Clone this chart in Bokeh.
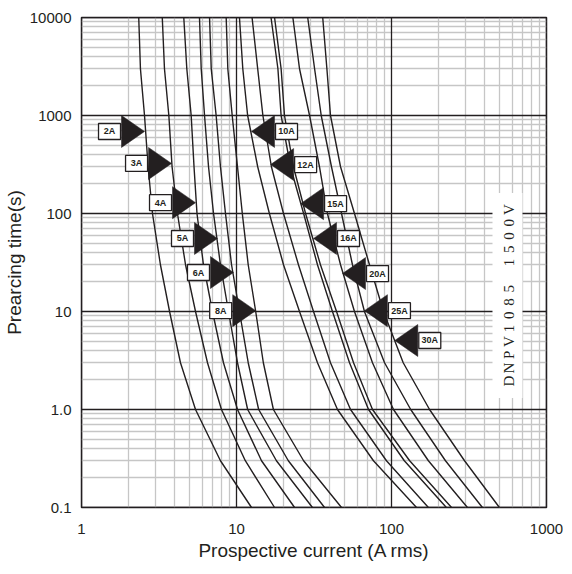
import math
from bokeh.plotting import figure
from bokeh.models import FixedTicker
from bokeh.core.properties import value
from bokeh.embed import file_html
from bokeh.resources import INLINE

# ---------------- data ----------------
times = [10000, 3000, 1000, 300, 100, 30, 10, 3, 1, 0.3, 0.1]  # prearcing time (s)

i_2A  = [2.34, 2.40, 2.55, 2.69, 2.87, 3.23, 3.70, 4.35, 5.44, 7.88, 12.5]
i_3A  = [3.32, 3.43, 3.66, 3.84, 4.16, 4.69, 5.44, 6.50, 8.00, 11.4, 17.6]
i_4A  = [4.57, 4.78, 5.10, 5.32, 5.56, 6.12, 7.00, 8.24, 10.15, 14.5, 23.7]
i_5A  = [5.77, 5.92, 6.22, 6.60, 7.11, 7.88, 8.88, 10.15, 11.8, 18.1, 30.9]
i_6A  = [6.70, 6.87, 7.39, 7.88, 8.49, 9.29, 10.45, 11.9, 13.9, 21.6, 37.0]
i_8A  = [8.58, 8.79, 9.38, 10.15, 10.9, 11.9, 13.3, 14.9, 17.3, 27.1, 47.6]
i_10A = [10.45, 10.98, 11.8, 13.7, 16.3, 20.1, 25.5, 33.3, 44.8, 76.5, 145]
i_12A = [12.6, 13.7, 14.8, 16.8, 20.1, 25.1, 31.4, 40.4, 54.4, 92.8, 173]
i_15A = [16.7, 18.5, 19.4, 22.3, 27.1, 33.3, 41.6, 53.6, 71.1, 121, 226]
i_16A = [17.6, 19.4, 20.4, 23.3, 27.9, 34.8, 44.2, 56.9, 75.4, 131, 244]
i_20A = [23.1, 25.5, 29.6, 34.3, 38.6, 46.9, 57.7, 75.4, 103, 173, 309]
i_25A = [28.8, 31.9, 35.2, 41.0, 47.6, 56.0, 66.9, 90.2, 133, 223, 386]
i_30A = [36.0, 38.3, 40.4, 46.9, 57.7, 72.1, 88.8, 119, 176, 296, 497]

ratings = ["2A", "3A", "4A", "5A", "6A", "8A", "10A", "12A", "15A", "16A", "20A", "25A", "30A"]
curves = [i_2A, i_3A, i_4A, i_5A, i_6A, i_8A, i_10A, i_12A, i_15A, i_16A, i_20A, i_25A, i_30A]

# arrow markers: tip position (current, time) and pointing direction
arrow_current = [2.55, 3.81, 5.44, 7.54, 9.56, 13.3, 12.5, 16.6, 25.9, 31.4, 48.3, 66.9, 105]
arrow_time    = [687, 324, 129, 55.6, 25.0, 10.2, 687, 316, 126, 55.6, 24.4, 10.2, 5.06]
arrow_dir     = ["right"] * 6 + ["left"] * 7

y_ticks = [0.1, 1, 10, 100, 1000, 10000]
y_tick_labels = ["0.1", "1.0", "10", "100", "1000", "10000"]
x_ticks = [1, 10, 100, 1000]
x_tick_labels = ["1", "10", "100", "1000"]

note_text = "DNPV1085 1500V"
note_anchor = (577, 14.6)  # (current, time) of the centre of the vertical note

# ---------------- layout ----------------
FW, FH = 465, 490
BL, BR, BT, BB = 74, 17, 17, 52
PX_DEC_X = FW / 3.0   # pixels per decade, x (1..1000)
PX_DEC_Y = FH / 5.0   # pixels per decade, y (0.1..10000)


def xs(x, dpx):
    return x * 10 ** (dpx / PX_DEC_X)


def ys(y, dpx):  # dpx positive = downwards on screen
    return y * 10 ** (-dpx / PX_DEC_Y)


INK = "#231f20"
GRID = "#c6c6c6"
X0, X1, Y0, Y1 = 1, 1000, 0.1, 10000

p = figure(frame_width=FW, frame_height=FH, x_axis_type="log", y_axis_type="log",
           x_range=(X0, X1), y_range=(Y0, Y1),
           output_backend="svg", toolbar_location=None,
           min_border_left=BL, min_border_right=BR,
           min_border_top=BT, min_border_bottom=BB)

minor_x = [k * 10 ** n for n in range(0, 3) for k in range(2, 10)]
minor_y = [k * 10 ** n for n in range(-1, 4) for k in range(2, 10)]
p.xaxis.ticker = FixedTicker(ticks=x_ticks, minor_ticks=minor_x)
p.yaxis.ticker = FixedTicker(ticks=y_ticks, minor_ticks=minor_y)
p.xaxis.major_label_overrides = dict(zip(x_ticks, x_tick_labels))
p.yaxis.major_label_overrides = dict(zip(y_ticks, y_tick_labels))

for ax in (p.xaxis, p.yaxis):
    ax.axis_line_color = None
    ax.major_tick_line_color = None
    ax.minor_tick_line_color = None
    ax.major_tick_out = 0
    ax.major_tick_in = 0
    ax.minor_tick_out = 0
    ax.minor_tick_in = 0
    ax.major_label_text_font = "Liberation Sans"
    ax.major_label_text_color = INK
    ax.axis_label_text_font = "Liberation Sans"
    ax.axis_label_text_font_style = "normal"
    ax.axis_label_text_font_size = "19px"
    ax.axis_label_text_color = INK

p.xaxis.major_label_text_font_size = "15px"
p.yaxis.major_label_text_font_size = "15px"
p.xaxis.major_label_standoff = 16
p.yaxis.major_label_standoff = 10
p.xaxis.axis_label = "Prospective current (A rms)"
p.yaxis.axis_label = "Prearcing time(s)"
p.xaxis.axis_label_standoff = 3
p.yaxis.axis_label_standoff = 2

# minor grid from the axes; major grid drawn on top as segments
for g in (p.xgrid, p.ygrid):
    g.grid_line_color = None
    g.minor_grid_line_color = GRID
    g.minor_grid_line_width = 1.3

p.segment(x0=x_ticks, y0=[Y0] * len(x_ticks), x1=x_ticks, y1=[Y1] * len(x_ticks),
          line_color=INK, line_width=1.3)
p.segment(x0=[X0] * len(y_ticks), y0=y_ticks, x1=[X1] * len(y_ticks), y1=y_ticks,
          line_color=INK, line_width=1.3)

p.outline_line_color = INK
p.outline_line_width = 1.5
p.background_fill_color = "white"
p.border_fill_color = "white"

# curves
for cur in curves:
    p.line(cur, times, line_color=INK, line_width=1.4, line_join="round")

# note with white background
nx, ny = note_anchor
p.rect(x=[xs(nx, -2)], y=[ys(ny, 0)], width=30, height=205,
       width_units="screen", height_units="screen",
       fill_color="white", line_color=None)
step = 13.2
n = len(note_text)
cx_list, cy_list, ch_list = [], [], []
for k, ch in enumerate(note_text):
    off = (k - (n - 1) / 2.0) * step
    cx_list.append(nx)
    cy_list.append(ys(ny, -off))
    ch_list.append(ch)
p.text(x=cx_list, y=cy_list, text=ch_list, angle=math.pi / 2,
       text_font=value("Liberation Serif"), text_font_size="15px",
       text_align="center", text_baseline="middle", text_color=INK)

# arrows + boxed labels
TRI_L, TRI_H = 23, 16
BOX_W, BOX_H = 22, 16
tri_x, tri_y, box_x, box_y = [], [], [], []
for cur, t, d in zip(arrow_current, arrow_time, arrow_dir):
    sgn = -1 if d == "right" else 1
    tri_x.append([cur, xs(cur, sgn * TRI_L), xs(cur, sgn * TRI_L)])
    tri_y.append([t, ys(t, -TRI_H), ys(t, TRI_H)])
    box_x.append(xs(cur, sgn * (TRI_L + 1 + BOX_W / 2)))
    box_y.append(t)
p.patches(tri_x, tri_y, fill_color=INK, line_color=INK, line_width=0.5)
p.rect(x=box_x, y=box_y, width=BOX_W, height=BOX_H, width_units="screen",
       height_units="screen", fill_color="white", line_color=INK, line_width=1.3)
p.text(x=box_x, y=box_y, text=ratings, text_font=value("Liberation Sans"),
       text_font_size="9px", text_font_style="bold", text_align="center",
       text_baseline="middle", text_color=INK)

open("out.html", "w").write(file_html(p, INLINE))
